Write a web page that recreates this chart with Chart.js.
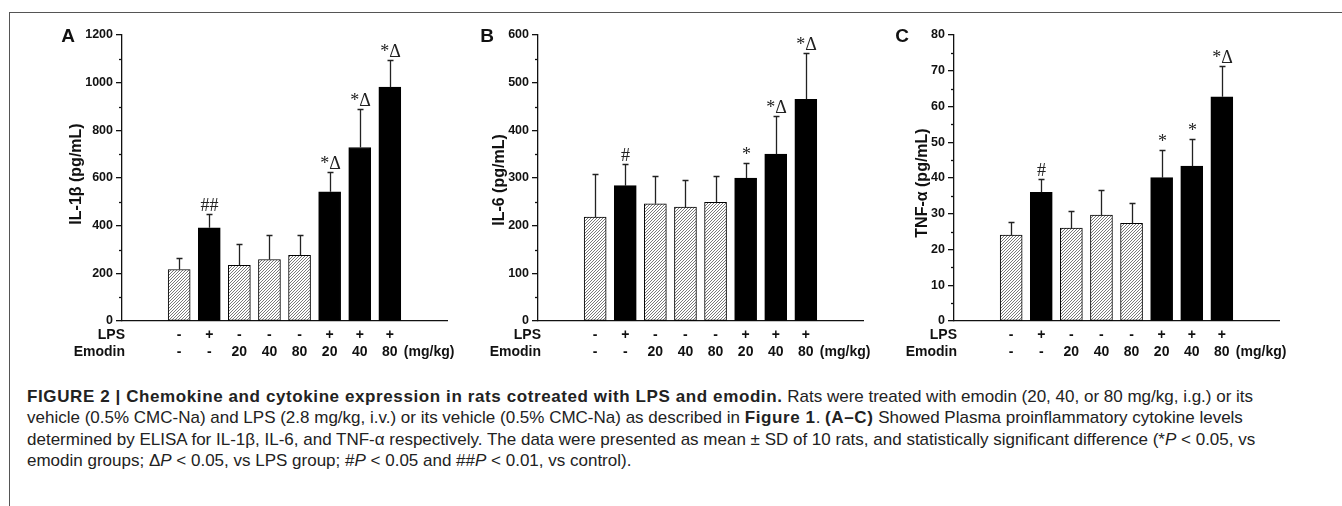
<!DOCTYPE html>
<html>
<head>
<meta charset="utf-8">
<script src="https://cdn.jsdelivr.net/npm/chart.js@4.4.0/dist/chart.umd.min.js"></script>
<style>
body { margin:0; background:#fff; width:1342px; height:506px; overflow:hidden; position:relative; font-family:"Liberation Sans", Arial, sans-serif; }
#frame { position:absolute; left:9px; top:12px; width:1400px; height:600px; border-left:1.5px solid #555; border-top:1.5px solid #555; }
canvas { position:absolute; top:0; }
#chartA { left:0; }
#chartB { left:440px; }
#chartC { left:880px; }
#caption { position:absolute; left:27px; top:386px; font-size:17px; line-height:21.4px; color:#222; white-space:nowrap; }
#caption b { letter-spacing:0.6px; }
</style>
</head>
<body>
<div id="frame"></div>
<canvas id="chartA" width="460" height="380"></canvas>
<canvas id="chartB" width="440" height="380"></canvas>
<canvas id="chartC" width="462" height="380"></canvas>
<div id="caption">
<b>FIGURE 2 | Chemokine and cytokine expression in rats cotreated with LPS and emodin.</b> Rats were treated with emodin (20, 40, or 80 mg/kg, i.g.) or its<br>
vehicle (0.5% CMC-Na) and LPS (2.8 mg/kg, i.v.) or its vehicle (0.5% CMC-Na) as described in <b>Figure 1</b>. <b>(A–C)</b> Showed Plasma proinflammatory cytokine levels<br>
determined by ELISA for IL-1β, IL-6, and TNF-α respectively. The data were presented as mean ± SD of 10 rats, and statistically significant difference (*<i>P</i> &lt; 0.05, vs<br>
emodin groups; Δ<i>P</i> &lt; 0.05, vs LPS group; #<i>P</i> &lt; 0.05 and ##<i>P</i> &lt; 0.01, vs control).
</div>
<script>
// groups (x axis rows)
const lpsLabels = ['-', '+', '-', '-', '-', '+', '+', '+'];
const emodinLabels = ['-', '-', '20', '40', '80', '20', '40', '80'];

// A: IL-1b
const il1bMean = [216, 391, 234, 258, 276, 542, 728, 981];
const il1bSD   = [50, 57, 89, 101, 83, 85, 161, 114];
const il1bMarks = ['', '##', '', '', '', '*Δ', '*Δ', '*Δ'];

// B: IL-6
const il6Mean = [218, 284, 246, 239, 249, 300, 350, 465];
const il6SD   = [90, 46, 59, 57, 56, 32, 81, 98];
const il6Marks = ['', '#', '', '', '', '*', '*Δ', '*Δ'];

// C: TNF-a
const tnfMean = [24.0, 36.0, 26.0, 29.6, 27.3, 40.1, 43.3, 62.7];
const tnfSD   = [3.7, 3.6, 4.9, 7.1, 5.6, 7.7, 7.5, 8.6];
const tnfMarks = ['', '#', '', '', '', '*', '*', '*Δ'];

// fine "/" hatching, drawn pixel by pixel so it stays crisp
function hatch() {
    const n = 3;
    const c = document.createElement('canvas');
    c.width = n; c.height = n;
    const g = c.getContext('2d');
    g.fillStyle = '#fff';
    g.fillRect(0, 0, n, n);
    g.fillStyle = '#7a7a7a';
    for (let x = 0; x < n; x++) {
        for (let y = 0; y < n; y++) {
            if ((x + y) % n === n - 1) g.fillRect(x, y, 1, 1);
        }
    }
    return g.createPattern(c, 'repeat');
}
const hatchFill = hatch();

const INK = '#111';
const SANS = '"Liberation Sans", Arial, sans-serif';

function makePanel(id, p) {
    const canvas = document.getElementById(id);
    const H = canvas.height;

    const decor = {
        id: 'decor',
        afterDatasetsDraw(chart) {
            const ctx = chart.ctx;
            const xs = chart.scales.x, ys = chart.scales.y;
            const axisX = chart.chartArea.left;
            ctx.save();

            // minor ticks
            ctx.strokeStyle = INK;
            ctx.lineWidth = 1.3;
            for (let v = p.step / 2; v < p.max; v += p.step) {
                const y = Math.round(ys.getPixelForValue(v)) + 0.5;
                ctx.beginPath();
                ctx.moveTo(axisX - 3, y);
                ctx.lineTo(axisX, y);
                ctx.stroke();
            }

            // error bars (upper only) and significance marks
            ctx.strokeStyle = '#222';
            ctx.lineWidth = 1.3;
            p.mean.forEach((m, i) => {
                const x = Math.round(xs.getPixelForValue(i + 1)) + 0.5;
                const y0 = ys.getPixelForValue(m);
                const y1 = Math.round(ys.getPixelForValue(m + p.sd[i])) + 0.5;
                ctx.beginPath();
                ctx.moveTo(x, y0);
                ctx.lineTo(x, y1);
                ctx.moveTo(x - 3, y1);
                ctx.lineTo(x + 3, y1);
                ctx.stroke();
                if (p.marks[i]) {
                    ctx.fillStyle = '#222';
                    ctx.font = '18px "Liberation Serif", "Times New Roman", serif';
                    ctx.textAlign = 'center';
                    ctx.textBaseline = 'alphabetic';
                    ctx.fillText(p.marks[i], x, y1 - 4);
                }
            });

            // x rows
            ctx.fillStyle = INK;
            ctx.font = 'bold 14px ' + SANS;
            ctx.textBaseline = 'middle';
            ctx.textAlign = 'center';
            lpsLabels.forEach((t, i) => {
                const x = xs.getPixelForValue(i + 1);
                ctx.fillText(t, x, p.rowY[0]);
                ctx.fillText(emodinLabels[i], x, p.rowY[1]);
            });
            ctx.textAlign = 'right';
            ctx.fillText('LPS', axisX + 3, p.rowY[0]);
            ctx.fillText('Emodin', axisX + 3, p.rowY[1]);
            ctx.textAlign = 'left';
            ctx.fillText('(mg/kg)', xs.getPixelForValue(8) + 14, p.rowY[1]);

            // panel letter
            ctx.font = 'bold 19px ' + SANS;
            ctx.textAlign = 'center';
            ctx.fillText(p.letter, p.letterPos[0], p.letterPos[1]);

            // y title
            ctx.font = 'bold 16px ' + SANS;
            ctx.translate(p.titlePos[0], p.titlePos[1]);
            ctx.rotate(-Math.PI / 2);
            ctx.fillText(p.title, 0, 0);
            ctx.restore();
        }
    };

    return new Chart(canvas, {
        type: 'bar',
        data: {
            datasets: [{
                data: p.mean.map((v, i) => ({ x: i + 1, y: v })),
                backgroundColor: lpsLabels.map(t => t === '+' ? '#000' : hatchFill),
                borderColor: '#000',
                borderWidth: 1,
                borderSkipped: false,
                barThickness: 22
            }]
        },
        options: {
            responsive: false,
            animation: false,
            events: [],
            layout: { padding: { left: 0, top: p.top, right: canvas.width - p.right, bottom: 0 } },
            plugins: { legend: { display: false }, tooltip: { enabled: false } },
            scales: {
                x: {
                    type: 'linear', min: 0, max: 9,
                    ticks: { display: false },
                    grid: { display: true, drawOnChartArea: false, drawTicks: false },
                    border: { color: INK, width: 1.3 },
                    afterFit(s) { s.height = H - p.bottom; }
                },
                y: {
                    min: 0, max: p.max,
                    ticks: { stepSize: p.step, color: INK, padding: 3,
                             callback: v => String(v),
                             font: { family: SANS, size: 12.5, weight: 'bold' } },
                    grid: { drawOnChartArea: false, tickLength: 6, color: INK, lineWidth: 1.3 },
                    border: { color: INK, width: 1.3 },
                    afterFit(s) { s.width = p.axisX; }
                }
            }
        },
        plugins: [decor]
    });
}

makePanel('chartA', {
    mean: il1bMean, sd: il1bSD, marks: il1bMarks, max: 1200, step: 200,
    axisX: 122, right: 447, top: 35, bottom: 321,
    rowY: [335, 352], letter: 'A', letterPos: [68, 37], title: 'IL-1β (pg/mL)', titlePos: [77, 174]
});
makePanel('chartB', {
    mean: il6Mean, sd: il6SD, marks: il6Marks, max: 600, step: 100,
    axisX: 98, right: 423, top: 35, bottom: 321,
    rowY: [335, 352], letter: 'B', letterPos: [47, 37], title: 'IL-6 (pg/mL)', titlePos: [60, 180]
});
makePanel('chartC', {
    mean: tnfMean, sd: tnfSD, marks: tnfMarks, max: 80, step: 10,
    axisX: 74, right: 399, top: 35, bottom: 321,
    rowY: [335, 352], letter: 'C', letterPos: [22, 37], title: 'TNF-α (pg/mL)', titlePos: [43, 183]
});
</script>
</body>
</html>
